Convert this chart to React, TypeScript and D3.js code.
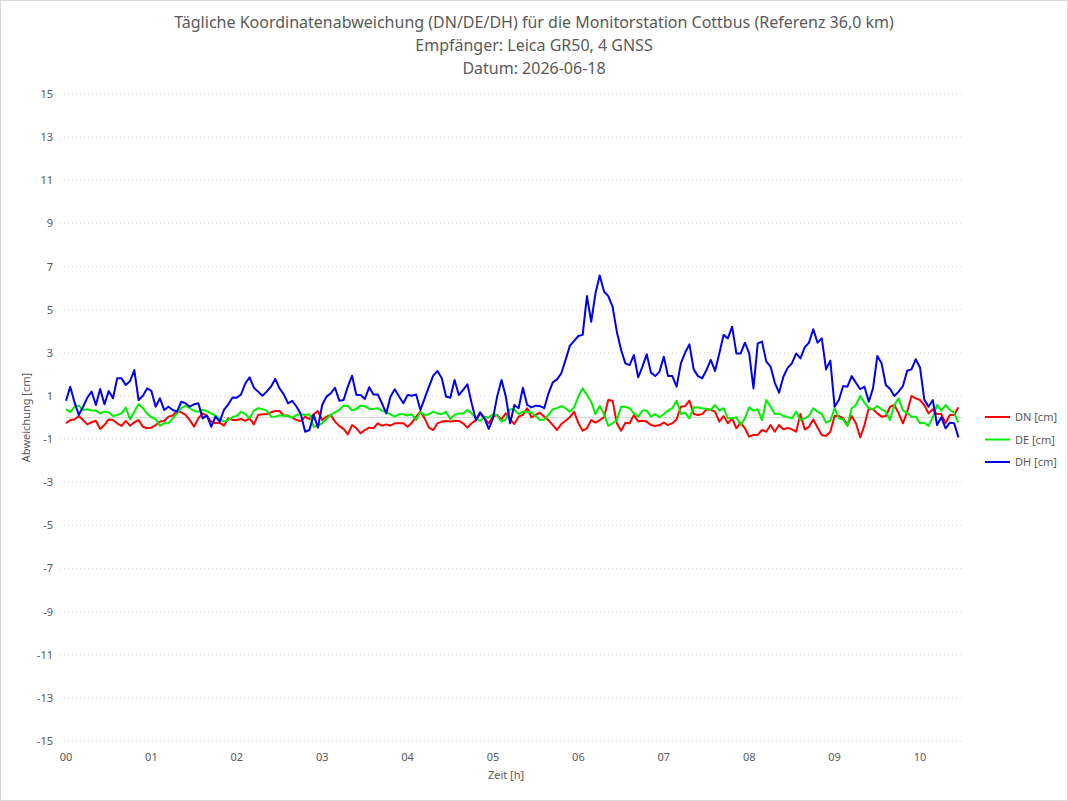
import React from 'react';
import * as d3 from 'd3';

// Messwerte alle 3 Minuten ab 00:00 (cm)
const stepHours = 0.05;

const dnValues = [
  -0.27, -0.12, -0.09, 0.07, -0.12, -0.32, -0.22, -0.15, -0.53, -0.35, -0.09, -0.12, -0.27, -0.39, -0.16, -0.38, -0.22,
  -0.12, -0.43, -0.5, -0.47, -0.35, -0.19, -0.16, 0.04, 0.09, 0.3, 0.24, 0.12, -0.12, -0.43, -0.04, 0.19, 0.07,
  -0.19, -0.27, -0.24, -0.38, -0.04, -0.12, -0.12, -0.07, -0.16, -0.04, -0.32, 0.12, 0.15, 0.15, 0.24, 0.3, 0.3,
  0.09, 0.09, -0.01, -0.12, -0.16, 0.04, -0.07, 0.15, 0.3, -0.12, 0.04, 0.12, -0.19, -0.39, -0.53, -0.78,
  -0.35,
  -0.5, -0.73, -0.58, -0.47, -0.5, -0.27, -0.38, -0.32, -0.38, -0.27, -0.27, -0.27, -0.43, -0.24, 0.04, 0.27, -0.04,
  -0.47, -0.58, -0.27, -0.19, -0.16, -0.19, -0.16, -0.16, -0.27, -0.47, -0.27, -0.12, 0.19, -0.04, -0.27, 0.04,
  0.12,
  -0.09, 0.19, -0.09, -0.3, 0.04, 0.12, 0.43, 0.01, 0.12, 0.22, 0.04, -0.12, -0.35, -0.58, -0.3, -0.15, 0.01, 0.27,
  -0.27, -0.61, -0.5, -0.12, -0.24, -0.12, 0.01, 0.81, 0.78, -0.27, -0.61, -0.24, -0.27, 0.12, -0.19, -0.15,
  -0.19, -0.35, -0.39, -0.35, -0.24, -0.35, -0.27, -0.09, 0.5, 0.53, 0.78, 0.16, 0.12, 0.16, 0.38, 0.35, 0.27,
  -0.19, 0.07, -0.27, -0.04, -0.5, -0.24, -0.5, -0.89, -0.81, -0.81, -0.58, -0.66, -0.35, -0.66, -0.35, -0.55,
  -0.48,
  -0.55, -0.66, 0.16, -0.55, -0.43, -0.09, -0.46, -0.81, -0.86, -0.66, 0.07, 0.07, -0.04, -0.35, 0.07, -0.27, -0.92,
  -0.35, 0.43, 0.38, 0.19, 0.04, 0.07, 0.5, 0.58, 0.19, -0.27, 0.27, 1.0, 0.89, 0.81, 0.58, 0.19, 0.38, 0.16, 0.16,
  -0.27, 0.12, 0.12, 0.47,
];

const deValues = [
  0.38, 0.24, 0.5, 0.55, 0.35, 0.38, 0.32, 0.32, 0.19, 0.27, 0.24, 0.07, 0.12, 0.19, 0.46, -0.09, 0.27, 0.61, 0.43,
  0.19, 0.01, -0.07, -0.38, -0.27, -0.27, -0.04, 0.19, 0.43, 0.55, 0.43, 0.3, 0.27, 0.35, 0.3,
  0.19, 0.09, -0.07, -0.19, -0.12, 0.02, 0.07, 0.27, 0.16, -0.04, 0.33, 0.43, 0.39, 0.32, 0.05, 0.04, 0.09, 0.09,
  0.07, -0.01, 0.12, 0.15, 0.12, 0.15, -0.43, -0.38, -0.27, -0.07, 0.12, 0.24, 0.35, 0.55, 0.53,
  0.34,
  0.39, 0.55, 0.52, 0.41, 0.39, 0.43, 0.32, 0.24, 0.15, 0.04, 0.15, 0.15, 0.09, 0.15, -0.12, 0.24, 0.12, 0.15, 0.27,
  0.19, 0.15, 0.27, -0.07, 0.12, 0.19, 0.19, 0.35, 0.19, -0.04, -0.16, 0.04, -0.01, 0.15,
  0.1,
  -0.19, -0.09, 0.38, 0.38, 0.16, 0.27, 0.27, 0.22, 0.07, -0.12, -0.09, 0.12, 0.38, 0.43, 0.53, 0.43, 0.27, 0.47,
  0.97, 1.35, 1.04, 0.73, 0.16, 0.53, 0.16, -0.39, -0.27, -0.12, 0.5, 0.5, 0.43, 0.19, 0.04, 0.32,
  0.32, 0.04, 0.16, 0.01, 0.16, 0.32, 0.43, 0.78, 0.16, 0.22, -0.04, 0.47, 0.46, 0.43, 0.41, 0.35, 0.58, 0.32, 0.43,
  -0.04, -0.04, 0.01, -0.35, -0.04, 0.47, 0.32, 0.38, -0.12, 0.81, 0.5, 0.16, 0.19, 0.07, 0.02,
  -0.04, 0.27, -0.12, -0.04, 0.07, 0.43, 0.27, 0.16, -0.24, -0.15, 0.43, -0.04, -0.09, -0.39, 0.43, 0.58, 1.0, 0.69,
  0.43, 0.38, 0.53, 0.38, 0.27, -0.12, 0.58, 0.89, 0.32, 0.22, 0.04, 0.04, -0.27, -0.24, -0.39, 0.01, 0.58, 0.32,
  0.58, 0.35, 0.22, -0.24,
];

const dhValues = [
  0.78, 1.43, 0.7, 0.12, 0.5, 0.92, 1.2, 0.58, 1.32, 0.61, 1.23, 0.89, 1.82, 1.82, 1.51, 1.69, 2.2, 0.81, 1.01, 1.35,
  1.23, 0.5, 0.89, 0.35, 0.5, 0.35, 0.27, 0.73, 0.66, 0.5, 0.61, 0.66, -0.04, 0.1,
  -0.43, 0.04, -0.19, 0.35, 0.61, 0.93, 0.92, 1.07, 1.58, 1.86, 1.38, 1.2, 1.01, 1.2, 1.43, 1.79, 1.35, 1.07, 0.66,
  0.77, 0.5, 0.15, -0.66, -0.58, 0.12, -0.47, 0.58, 0.97, 1.12, 1.38, 0.78, 0.81, 1.43,
  1.94,
  1.04, 1.04, 0.86, 1.4, 1.07, 1.07, 0.66, 0.19, 0.97, 1.31, 0.97, 0.66, 1.04, 1.01, 1.07, 0.35, 0.89, 1.43, 1.94,
  2.16, 1.82, 0.97, 0.92, 1.74, 1.04, 1.28, 1.54, 0.66, -0.12, 0.24, -0.04, -0.53, -0.04,
  1.0,
  1.74, 0.97, -0.27, 0.58, 0.43, 1.38, 0.58, 0.47, 0.55, 0.53, 0.43, 1.12, 1.63, 1.77, 2.05, 2.67, 3.32, 3.55, 3.78,
  3.83, 5.63, 4.44, 5.76, 6.58, 5.84, 5.63, 5.14, 3.98, 3.13, 2.51, 2.43, 2.9, 1.86, 2.36,
  2.93, 2.08, 1.92, 2.13, 2.82, 1.92, 1.92, 1.43, 2.51, 3.01, 3.39, 2.23, 1.92, 1.82, 2.2, 2.67, 2.16, 2.97, 3.83,
  3.67, 4.21, 2.97, 2.97, 3.47, 2.97, 1.35, 3.44, 3.52, 2.59, 2.36, 1.61, 1.15, 1.89, 2.3,
  2.51, 2.97, 2.74, 3.25, 3.47, 4.09, 3.47, 3.67, 2.23, 2.64, 0.5, 0.81, 1.46, 1.43, 1.92, 1.61, 1.31, 1.43, 0.73,
  1.35, 2.85, 2.51, 1.51, 1.32, 1.0, 1.2, 1.46, 2.17, 2.23, 2.7, 2.32, 0.84, 0.5, 0.81, -0.35, 0.01, -0.5, -0.24,
  -0.27, -0.92,
];

const seriesNames = ['DN [cm]', 'DE [cm]', 'DH [cm]'];
const seriesColors = ['#ff0000', '#00ee00', '#0000ee'];

const yTicks = [15, 13, 11, 9, 7, 5, 3, 1, -1, -3, -5, -7, -9, -11, -13, -15];
const xTicks = [0, 1, 2, 3, 4, 5, 6, 7, 8, 9, 10];
const xTickLabels = ['00', '01', '02', '03', '04', '05', '06', '07', '08', '09', '10'];

const titleLines = [
  'Tägliche Koordinatenabweichung (DN/DE/DH) für die Monitorstation Cottbus (Referenz 36,0 km)',
  'Empfänger: Leica GR50, 4 GNSS',
  'Datum: 2026-06-18',
];

const W = 1068;
const H = 801;
const font = '"Noto Sans", "Open Sans", sans-serif';
const textColor = '#595959';

const App: React.FC = () => {
  const x = d3.scaleLinear().domain([0, 10.5]).range([66, 962.7]);
  const y = d3.scaleLinear().domain([-15, 15]).range([741, 94]);

  const line = d3
    .line<number>()
    .x((_, i) => x(i * stepHours))
    .y(d => y(d));

  const allSeries = [dnValues, deValues, dhValues];

  return (
    <svg
      width={W}
      height={H}
      style={{ position: 'absolute', left: 0, top: 0, background: '#fff' }}
      fontFamily={font}
    >
      <rect x={0.5} y={0.5} width={W - 1} height={H - 1} fill="#fff" stroke="#d9d9d9" />

      {titleLines.map((t, i) => (
        <text key={t} x={534} y={28 + i * 23} textAnchor="middle" fontSize={16} fill={textColor}>
          {t}
        </text>
      ))}

      {/* Gitterlinien */}
      {yTicks.map(v => (
        <line
          key={v}
          x1={60}
          x2={962}
          y1={y(v)}
          y2={y(v)}
          stroke="#d9d9d9"
          strokeWidth={1}
          strokeDasharray="1,3"
        />
      ))}
      <line x1={66} x2={962} y1={y(0)} y2={y(0)} stroke="#d9d9d9" strokeWidth={1} />

      {yTicks.map(v => (
        <text key={v} x={53} y={y(v) + 4} textAnchor="end" fontSize={11} fill={textColor}>
          {v}
        </text>
      ))}
      {xTicks.map((v, i) => (
        <text key={v} x={x(v)} y={761} textAnchor="middle" fontSize={11} fill={textColor}>
          {xTickLabels[i]}
        </text>
      ))}

      <text x={506} y={779} textAnchor="middle" fontSize={11} fill={textColor}>
        Zeit [h]
      </text>
      <text
        transform={`translate(30,${y(0)}) rotate(-90)`}
        textAnchor="middle"
        fontSize={11}
        fill={textColor}
      >
        Abweichung [cm]
      </text>

      {allSeries.map((s, i) => (
        <path
          key={seriesNames[i]}
          d={line(s) ?? ''}
          fill="none"
          stroke={seriesColors[i]}
          strokeWidth={2}
          strokeLinejoin="round"
        />
      ))}

      {/* Legende */}
      {seriesNames.map((n, i) => (
        <g key={n} transform={`translate(985,${417 + i * 22.5})`}>
          <line x1={0} x2={25} y1={0} y2={0} stroke={seriesColors[i]} strokeWidth={2} />
          <text x={30} y={4} fontSize={11} fill={textColor}>
            {n}
          </text>
        </g>
      ))}
    </svg>
  );
};

export default App;
